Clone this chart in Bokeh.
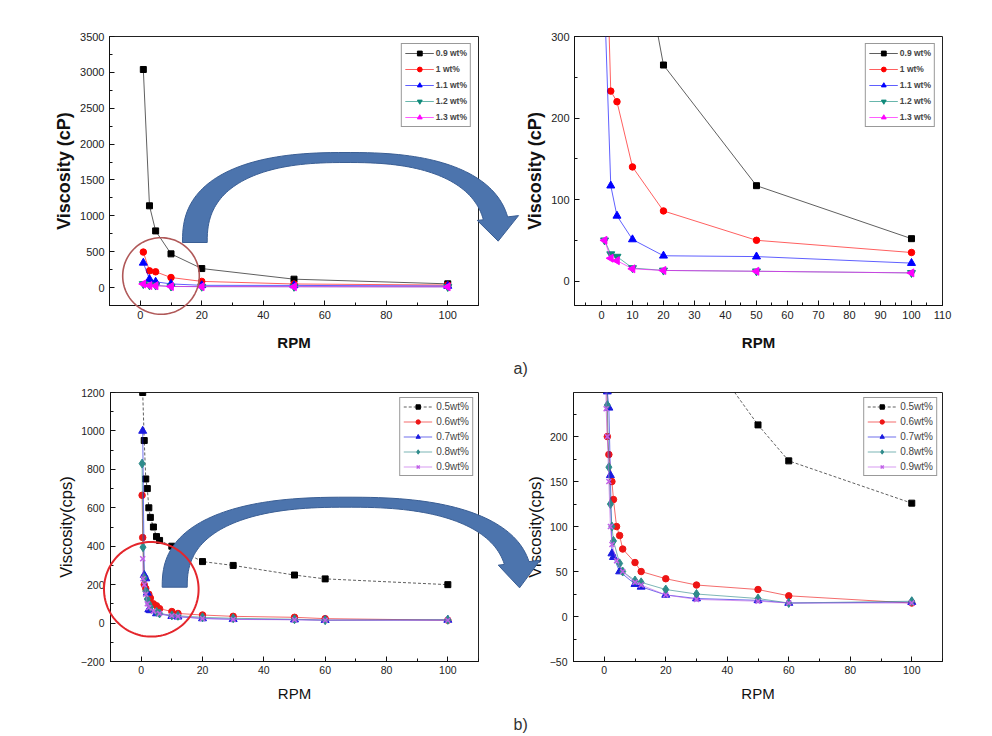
import numpy as np
from bokeh.plotting import figure
from bokeh.models import SingleIntervalTicker, Label, GridBox
from bokeh.embed import file_html
from bokeh.resources import INLINE

FONT = "Liberation Sans"

# ---------------- data: panel a) ----------------
rpm_a = [1, 3, 5, 10, 20, 50, 100]
a_labels = ["0.9 wt%", "1 wt%", "1.1 wt%", "1.2 wt%", "1.3 wt%"]
visc_a_09 = [3040, 1140, 790, 470, 265, 117, 52]
visc_a_10 = [495, 233, 220, 140, 86, 50, 35]
visc_a_11 = [345, 117, 80, 51, 31, 30, 22]
visc_a_12 = [50, 33, 30, 16, 13, 12, 10]
visc_a_13 = [50, 28, 25, 15, 13, 12, 10]

# ---------------- data: panel b) ----------------
b_labels = ["0.5wt%", "0.6wt%", "0.7wt%", "0.8wt%", "0.9wt%"]
rpm_b_05 = [0.5, 1, 1.5, 2, 2.5, 3, 4, 5, 6, 10, 20, 30, 50, 60, 100]
visc_b_05 = [1200, 950, 750, 700, 600, 550, 500, 450, 430, 400, 320, 300, 250, 230, 200]
rpm_b_05_zoom = [30, 50, 60, 100]
visc_b_05_zoom = [308, 213, 173, 126]
rpm_b_06 = [0.3, 0.5, 1, 1.5, 2.5, 3, 4, 5, 6, 10, 12, 20, 30, 50, 60, 100]
visc_b_06 = [665, 445, 200, 180, 150, 130, 100, 90, 75, 60, 50, 42, 35, 30, 23, 15]
rpm_b_07 = [0.5, 1, 1.5, 2, 2.5, 3, 5, 10, 12, 20, 30, 50, 60, 100]
visc_b_07 = [1000, 250, 232, 157, 70, 66, 50, 36, 33, 24, 20, 18, 15, 16]
rpm_b_08 = [0.3, 0.6, 1, 1.5, 2, 2.5, 3, 5, 6, 10, 12, 20, 30, 50, 60, 100]
visc_b_08 = [830, 395, 235, 166, 125, 100, 84, 59, 50, 40, 38, 30, 25, 20, 15, 17]
rpm_b_09 = [0.5, 0.6, 1, 1.5, 2, 2.5, 4, 6, 10, 12, 20, 30, 50, 60, 100]
visc_b_09 = [335, 231, 200, 150, 100, 80, 62, 50, 38, 35, 24, 19, 17, 15, 15]

# ---------------- panel geometry ----------------
GEOM = {
    "aL": dict(w=522, h=355, bl=109, br=44, bt=36, bb=50, xr=(-10, 110), yr=(-250, 3500)),
    "aR": dict(w=470, h=355, bl=50, br=50, bt=36, bb=50, xr=(-8.7, 110), yr=(-30, 300)),
    "bL": dict(w=522, h=332, bl=110, br=44, bt=12, bb=51, xr=(-10, 110), yr=(-200, 1200)),
    "bR": dict(w=470, h=332, bl=50, br=50, bt=12, bb=51, xr=(-10, 110), yr=(-50, 249)),
}
PAGE_W, PAGE_H = 992, 736

# decorations, in page pixels (drawn on a transparent overlay canvas)
ARROW_A = dict(cx=346, cy=242, ao=164, bo=90, ai=139.3, bi=80, t_end=12, head_out=0.45, head_in=0.25, head_len=23)
ARROW_B = dict(cx=346.7, cy=586.7, ao=185, bo=90, ai=160, bi=80, t_end=12, head_out=0.45, head_in=0.25, head_len=25)
CIRCLE_A = dict(cx=160.5, cy=275.5, r=38.3, color="#B05858", width=1.6)
CIRCLE_B = dict(cx=150.8, cy=588.8, r=47.3, color="#E4262C", width=2.0)


def superellipse(cx, cy, a, b, t_deg, n=2.5):
    t = np.radians(t_deg)
    c, s = np.cos(t), np.sin(t)
    x = cx + a * np.sign(c) * np.abs(c) ** (2 / n)
    y = cy - b * np.sign(s) * np.abs(s) ** (2 / n)
    return x, y


def curved_arrow(cx, cy, ao, bo, ai, bi, t_end, head_out, head_in, head_len):
    ts = np.linspace(180, t_end, 90)
    xo, yo = superellipse(cx, cy, ao, bo, ts)
    xi, yi = superellipse(cx, cy, ai, bi, ts)
    Po = np.array([xo[-1], yo[-1]])
    Pi = np.array([xi[-1], yi[-1]])
    base = Po - Pi
    ob = Po + head_out * base
    ib = Pi - head_in * base
    mid = (Po + Pi) / 2
    perp = np.array([-base[1], base[0]])
    perp = perp / np.linalg.norm(perp)
    tip = mid + head_len * perp
    xs = list(xo) + [ob[0], tip[0], ib[0]] + list(xi[::-1])
    ys = list(yo) + [ob[1], tip[1], ib[1]] + list(yi[::-1])
    return xs, ys


def ring(cx, cy, r):
    t = np.linspace(0, 2 * np.pi, 120)
    return list(cx + r * np.cos(t)), list(cy + r * np.sin(t))


def make_panel(g, xint, yint, style):
    p = figure(width=g["w"], height=g["h"], x_range=g["xr"], y_range=g["yr"],
               output_backend="svg", toolbar_location=None, frame_align=False,
               min_border_left=g["bl"], min_border_right=g["br"],
               min_border_top=g["bt"], min_border_bottom=g["bb"])
    p.grid.visible = False
    p.background_fill_color = "white"
    p.border_fill_color = "white"
    p.outline_line_color = "#222222"
    p.outline_line_width = 1
    p.xaxis.ticker = SingleIntervalTicker(interval=xint, num_minor_ticks=2)
    p.yaxis.ticker = SingleIntervalTicker(interval=yint, num_minor_ticks=2)
    for ax in (p.xaxis[0], p.yaxis[0]):
        ax.major_tick_in = 5
        ax.major_tick_out = 0
        ax.minor_tick_in = 3
        ax.minor_tick_out = 0
        ax.axis_line_color = "#111111"
        ax.major_tick_line_color = "#111111"
        ax.minor_tick_line_color = "#111111"
        ax.major_label_text_font = FONT
        ax.major_label_text_color = "#222222"
        ax.axis_label_text_font = FONT
        ax.axis_label_text_color = "#111111"
    p.xaxis.axis_label = "RPM"
    if style == "a":
        p.yaxis.axis_label = "Viscosity (cP)"
        p.axis.axis_label_text_font_style = "bold"
        p.axis.major_label_text_font_size = "11px"
        p.xaxis.axis_label_text_font_size = "15px"
        p.yaxis.axis_label_text_font_size = "18px"
        p.xaxis.major_label_standoff = 5
        p.xaxis.axis_label_standoff = 12
        p.yaxis.major_label_standoff = 5
        p.yaxis.axis_label_standoff = 3
    else:
        p.yaxis.axis_label = "Viscosity(cps)"
        p.axis.axis_label_text_font_style = "normal"
        p.axis.major_label_text_font_size = "10.5px"
        p.xaxis.axis_label_text_font_size = "15px"
        p.yaxis.axis_label_text_font_size = "16.5px"
        p.xaxis.major_label_standoff = 4
        p.xaxis.axis_label_standoff = 8
        p.yaxis.major_label_standoff = 6
        p.yaxis.axis_label_standoff = 3
    return p


def add_series(p, x, y, color, marker, size, label, angle=0.0, line_alpha=0.7, dash="solid"):
    p.line(x, y, line_color=color, line_width=0.9, line_alpha=line_alpha, line_dash=dash,
           legend_label=label)
    if marker == "x":
        p.scatter(x, y, marker="x", size=size, line_color=color, line_width=1.5, legend_label=label)
    else:
        p.scatter(x, y, marker=marker, size=size, angle=angle, fill_color=color,
                  line_color=color, legend_label=label)


def style_legend(p, style):
    lg = p.legend[0]
    lg.location = "top_right"
    lg.padding = 3
    lg.spacing = 4
    lg.glyph_width = 29
    lg.glyph_height = 12 if style == "a" else 11
    lg.label_height = 12 if style == "a" else 11
    lg.label_text_font = FONT
    lg.border_line_color = "#333333"
    lg.border_line_width = 1
    lg.background_fill_color = "white"
    lg.background_fill_alpha = 1.0
    if style == "a":
        lg.margin = 7
        lg.label_standoff = 2
        lg.label_text_font_size = "8.5px"
        lg.label_text_font_style = "bold"
    else:
        lg.margin = 5
        lg.label_standoff = 4
        lg.label_text_font_size = "10px"
        lg.label_text_font_style = "normal"


A_COLORS = ["#000000", "#FF0000", "#0000FF", "#0F8A7A", "#FF00FF"]
A_SERIES = [visc_a_09, visc_a_10, visc_a_11, visc_a_12, visc_a_13]
A_MARKERS = [("square", 6, 0.0), ("circle", 6.5, 0.0), ("triangle", 8, 0.0),
             ("inverted_triangle", 8, 0.0), ("triangle", 8, np.pi / 2)]


def build_a(key, xint, yint):
    p = make_panel(GEOM[key], xint, yint, "a")
    for vals, col, (mk, sz, ang), lab in zip(A_SERIES, A_COLORS, A_MARKERS, a_labels):
        add_series(p, rpm_a, vals, col, mk, sz, lab, angle=ang)
    style_legend(p, "a")
    return p


B_COLORS = ["#000000", "#EE1515", "#1A1AE0", "#2E8B8B", "#C060E8"]
B_MARKERS = [("square", 6), ("circle", 6.5), ("triangle", 8), ("diamond", 9), ("x", 7)]
B_DASHES = ["3 2", "solid", "solid", "solid", "solid"]


def build_b(key, xint, yint, black_x, black_y):
    p = make_panel(GEOM[key], xint, yint, "b")
    xs = [black_x, rpm_b_06, rpm_b_07, rpm_b_08, rpm_b_09]
    ys = [black_y, visc_b_06, visc_b_07, visc_b_08, visc_b_09]
    for x, y, col, (mk, sz), dash, lab in zip(xs, ys, B_COLORS, B_MARKERS, B_DASHES, b_labels):
        add_series(p, x, y, col, mk, sz, lab, dash=dash)
    style_legend(p, "b")
    return p


aL = build_a("aL", 20, 500)
aR = build_a("aR", 10, 100)
bL = build_b("bL", 20, 200, rpm_b_05, visc_b_05)
bR = build_b("bR", 20, 50, rpm_b_05_zoom, visc_b_05_zoom)


def bare_fig(w, h, yr):
    c = figure(width=w, height=h, x_range=(0, w), y_range=yr,
               output_backend="svg", toolbar_location=None, frame_align=False,
               x_axis_type=None, y_axis_type=None,
               min_border_left=0, min_border_right=0, min_border_top=0, min_border_bottom=0)
    c.outline_line_color = None
    c.background_fill_alpha = 0
    c.border_fill_alpha = 0
    return c


def caption_fig(text, h):
    c = bare_fig(PAGE_W, h, (0, h))
    c.add_layout(Label(x=513, y=h / 2, text=text, text_font=FONT, text_font_size="16px",
                       text_baseline="middle", text_color="#333333"))
    return c


capA = caption_fig("a)", 25)
capB = caption_fig("b)", 24)

# transparent overlay canvas, in page pixels, for the curved arrows and the circles
ov = bare_fig(PAGE_W, PAGE_H, (PAGE_H, 0))
for spec in (ARROW_A, ARROW_B):
    xs, ys = curved_arrow(**spec)
    ov.patch(xs, ys, fill_color="#4C74AD", line_color="#3A5E94", line_width=1)
for spec in (CIRCLE_A, CIRCLE_B):
    xs, ys = ring(spec["cx"], spec["cy"], spec["r"])
    ov.line(xs, ys, line_color=spec["color"], line_width=spec["width"])

layout = GridBox(children=[
    (aL, 0, 0), (aR, 0, 1),
    (capA, 1, 0, 1, 2),
    (bL, 2, 0), (bR, 2, 1),
    (capB, 3, 0, 1, 2),
    (ov, 0, 0, 4, 2),
], spacing=0)

open("out.html", "w").write(file_html(layout, INLINE))
